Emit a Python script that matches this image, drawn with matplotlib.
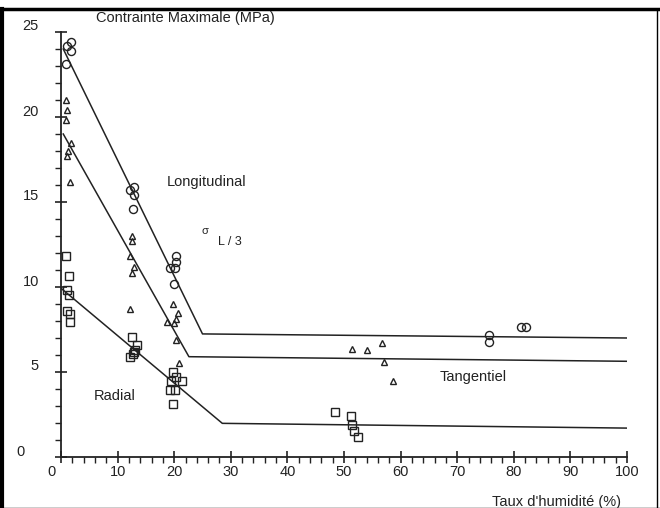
import matplotlib
matplotlib.use("Agg")
import matplotlib.pyplot as plt
from matplotlib.lines import Line2D
from matplotlib.transforms import ScaledTranslation
import numpy as np

plt.rcParams['font.family'] = ['Liberation Sans', 'DejaVu Sans']

# Longitudinal (circles)
long_x = [1.8, 1.0, 1.7, 0.9, 12.2, 12.9, 12.9, 12.8, 20.3, 20.3, 19.3, 20.1, 20.0, 75.6, 75.6, 81.3, 82.2]
long_y = [24.4, 24.2, 23.9, 23.1, 15.7, 15.9, 15.4, 14.6, 11.8, 11.5, 11.1, 11.1, 10.2, 7.2, 6.75, 7.65, 7.63]
# Tangentiel (triangles)
tang_x = [0.8, 1.0, 0.8, 1.8, 1.3, 1.0, 1.6, 12.6, 12.6, 12.2, 12.9, 12.5, 12.2,
          19.7, 20.7, 18.8, 20.3, 20.0, 20.4, 20.8, 51.5, 54.1, 56.7, 57.1, 58.7]
tang_y = [21.0, 20.4, 19.8, 18.5, 18.0, 17.7, 16.2, 13.0, 12.7, 11.8, 11.2, 10.85, 8.7,
          9.0, 8.45, 7.95, 8.1, 7.9, 6.9, 5.55, 6.35, 6.3, 6.7, 5.6, 4.5]
# Radial (squares)
rad_x = [0.8, 1.4, 1.0, 1.5, 1.0, 1.6, 1.6, 12.6, 13.4, 13.1, 12.2, 12.7, 12.9,
         19.7, 20.4, 21.4, 19.4, 20.1, 19.2, 19.7, 48.4, 51.2, 51.5, 51.7, 52.5]
rad_y = [11.8, 10.65, 9.8, 9.55, 8.6, 8.4, 7.95, 7.05, 6.6, 6.3, 5.9, 6.05, 6.2,
         5.0, 4.7, 4.5, 4.5, 3.95, 3.95, 3.1, 2.63, 2.43, 1.9, 1.55, 1.2]

# Fitted bilinear lines
long_line_x = [0.4, 25.0, 100]
long_line_y = [24.0, 7.24, 7.0]
tang_line_x = [0.4, 22.6, 100]
tang_line_y = [19.0, 5.9, 5.63]
rad_line_x = [0.1, 28.5, 100]
rad_line_y = [9.9, 1.98, 1.7]

xticks = [0, 10, 20, 30, 40, 50, 60, 70, 80, 90, 100]
yticks = [0, 5, 10, 15, 20, 25]

W, H = 660, 508
fig = plt.figure(figsize=(W / 100, H / 100), dpi=100)
ax = fig.add_axes([61 / W, 1 - 457 / H, (627 - 61) / W, (457 - 32) / H])
ax.set_xlim(0, 100)
ax.set_ylim(0, 25)

lc = '#222222'
ax.plot(long_line_x, long_line_y, color=lc, lw=1.1)
ax.plot(tang_line_x, tang_line_y, color=lc, lw=1.1)
ax.plot(rad_line_x, rad_line_y, color=lc, lw=1.1)

ax.plot(long_x, long_y, 'o', mfc='none', mec=lc, ms=5.8, mew=1.0, clip_on=False)
ax.plot(tang_x, tang_y, '^', mfc='none', mec=lc, ms=5, mew=1.0, clip_on=False)
ax.plot(rad_x, rad_y, 's', mfc='none', mec=lc, ms=5.5, mew=1.0, clip_on=False)

for s in ['top', 'right']:
    ax.spines[s].set_visible(False)
for s in ['left', 'bottom']:
    ax.spines[s].set_linewidth(1.3)
    ax.spines[s].set_color(lc)

ax.set_xticks(xticks)
ax.set_xticklabels([str(v) for v in xticks])
ax.set_yticks(yticks)
ax.set_yticklabels([str(v) for v in yticks])
ax.set_xticks(np.arange(0, 101, 2), minor=True)
ax.set_yticks(np.arange(0, 26, 1), minor=True)
ax.tick_params(which='major', direction='inout', length=8, width=1.2, color=lc,
               labelsize=10.5, labelcolor='#222222')
ax.tick_params(which='minor', direction='out', length=4, width=1.0, color=lc)
ax.tick_params(axis='y', which='major', pad=12)
ax.tick_params(axis='x', which='major', pad=2)

# shift y labels upward as in original
for lab, v in zip(ax.get_yticklabels(), yticks):
    dx = -14 / 100 if v == 0 else 0
    lab.set_transform(lab.get_transform() + ScaledTranslation(dx, 7 / 100, fig.dpi_scale_trans))
for lab, v in zip(ax.get_xticklabels(), xticks):
    if v == 0:
        lab.set_transform(lab.get_transform() + ScaledTranslation(-10 / 100, 0, fig.dpi_scale_trans))

tc = '#222222'
ax.text(25.8, 16.2, 'Longitudinal', fontsize=10.5, ha='center', va='center', color=tc)
ax.text(25.4, 13.3, 'σ', fontsize=8, ha='center', va='center', color=tc)
ax.text(29.9, 12.65, 'L / 3', fontsize=9, ha='center', va='center', color=tc)
ax.text(9.5, 3.6, 'Radial', fontsize=10.5, ha='center', va='center', color=tc)
ax.text(72.8, 4.7, 'Tangentiel', fontsize=10.5, ha='center', va='center', color=tc)

fig.text(185 / W, 1 - 18 / H, 'Contrainte Maximale (MPa)', fontsize=10.5,
         ha='center', va='center', color=tc)
fig.text(556 / W, 1 - 502 / H, "Taux d'humidité (%)", fontsize=10.5,
         ha='center', va='center', color=tc)

# outer frame of the scanned figure
fig.add_artist(Line2D([0, 1], [1 - 9 / H, 1 - 9 / H], transform=fig.transFigure, color='black', lw=2.5))
fig.add_artist(Line2D([1.5 / W, 1.5 / W], [0, 1 - 9 / H], transform=fig.transFigure, color='black', lw=3))
fig.add_artist(Line2D([657 / W, 657 / W], [0, 1 - 9 / H], transform=fig.transFigure, color='black', lw=1))
fig.add_artist(Line2D([0, 1], [0.5 / H, 0.5 / H], transform=fig.transFigure, color='black', lw=1))

fig.savefig('out.png', dpi=100)
